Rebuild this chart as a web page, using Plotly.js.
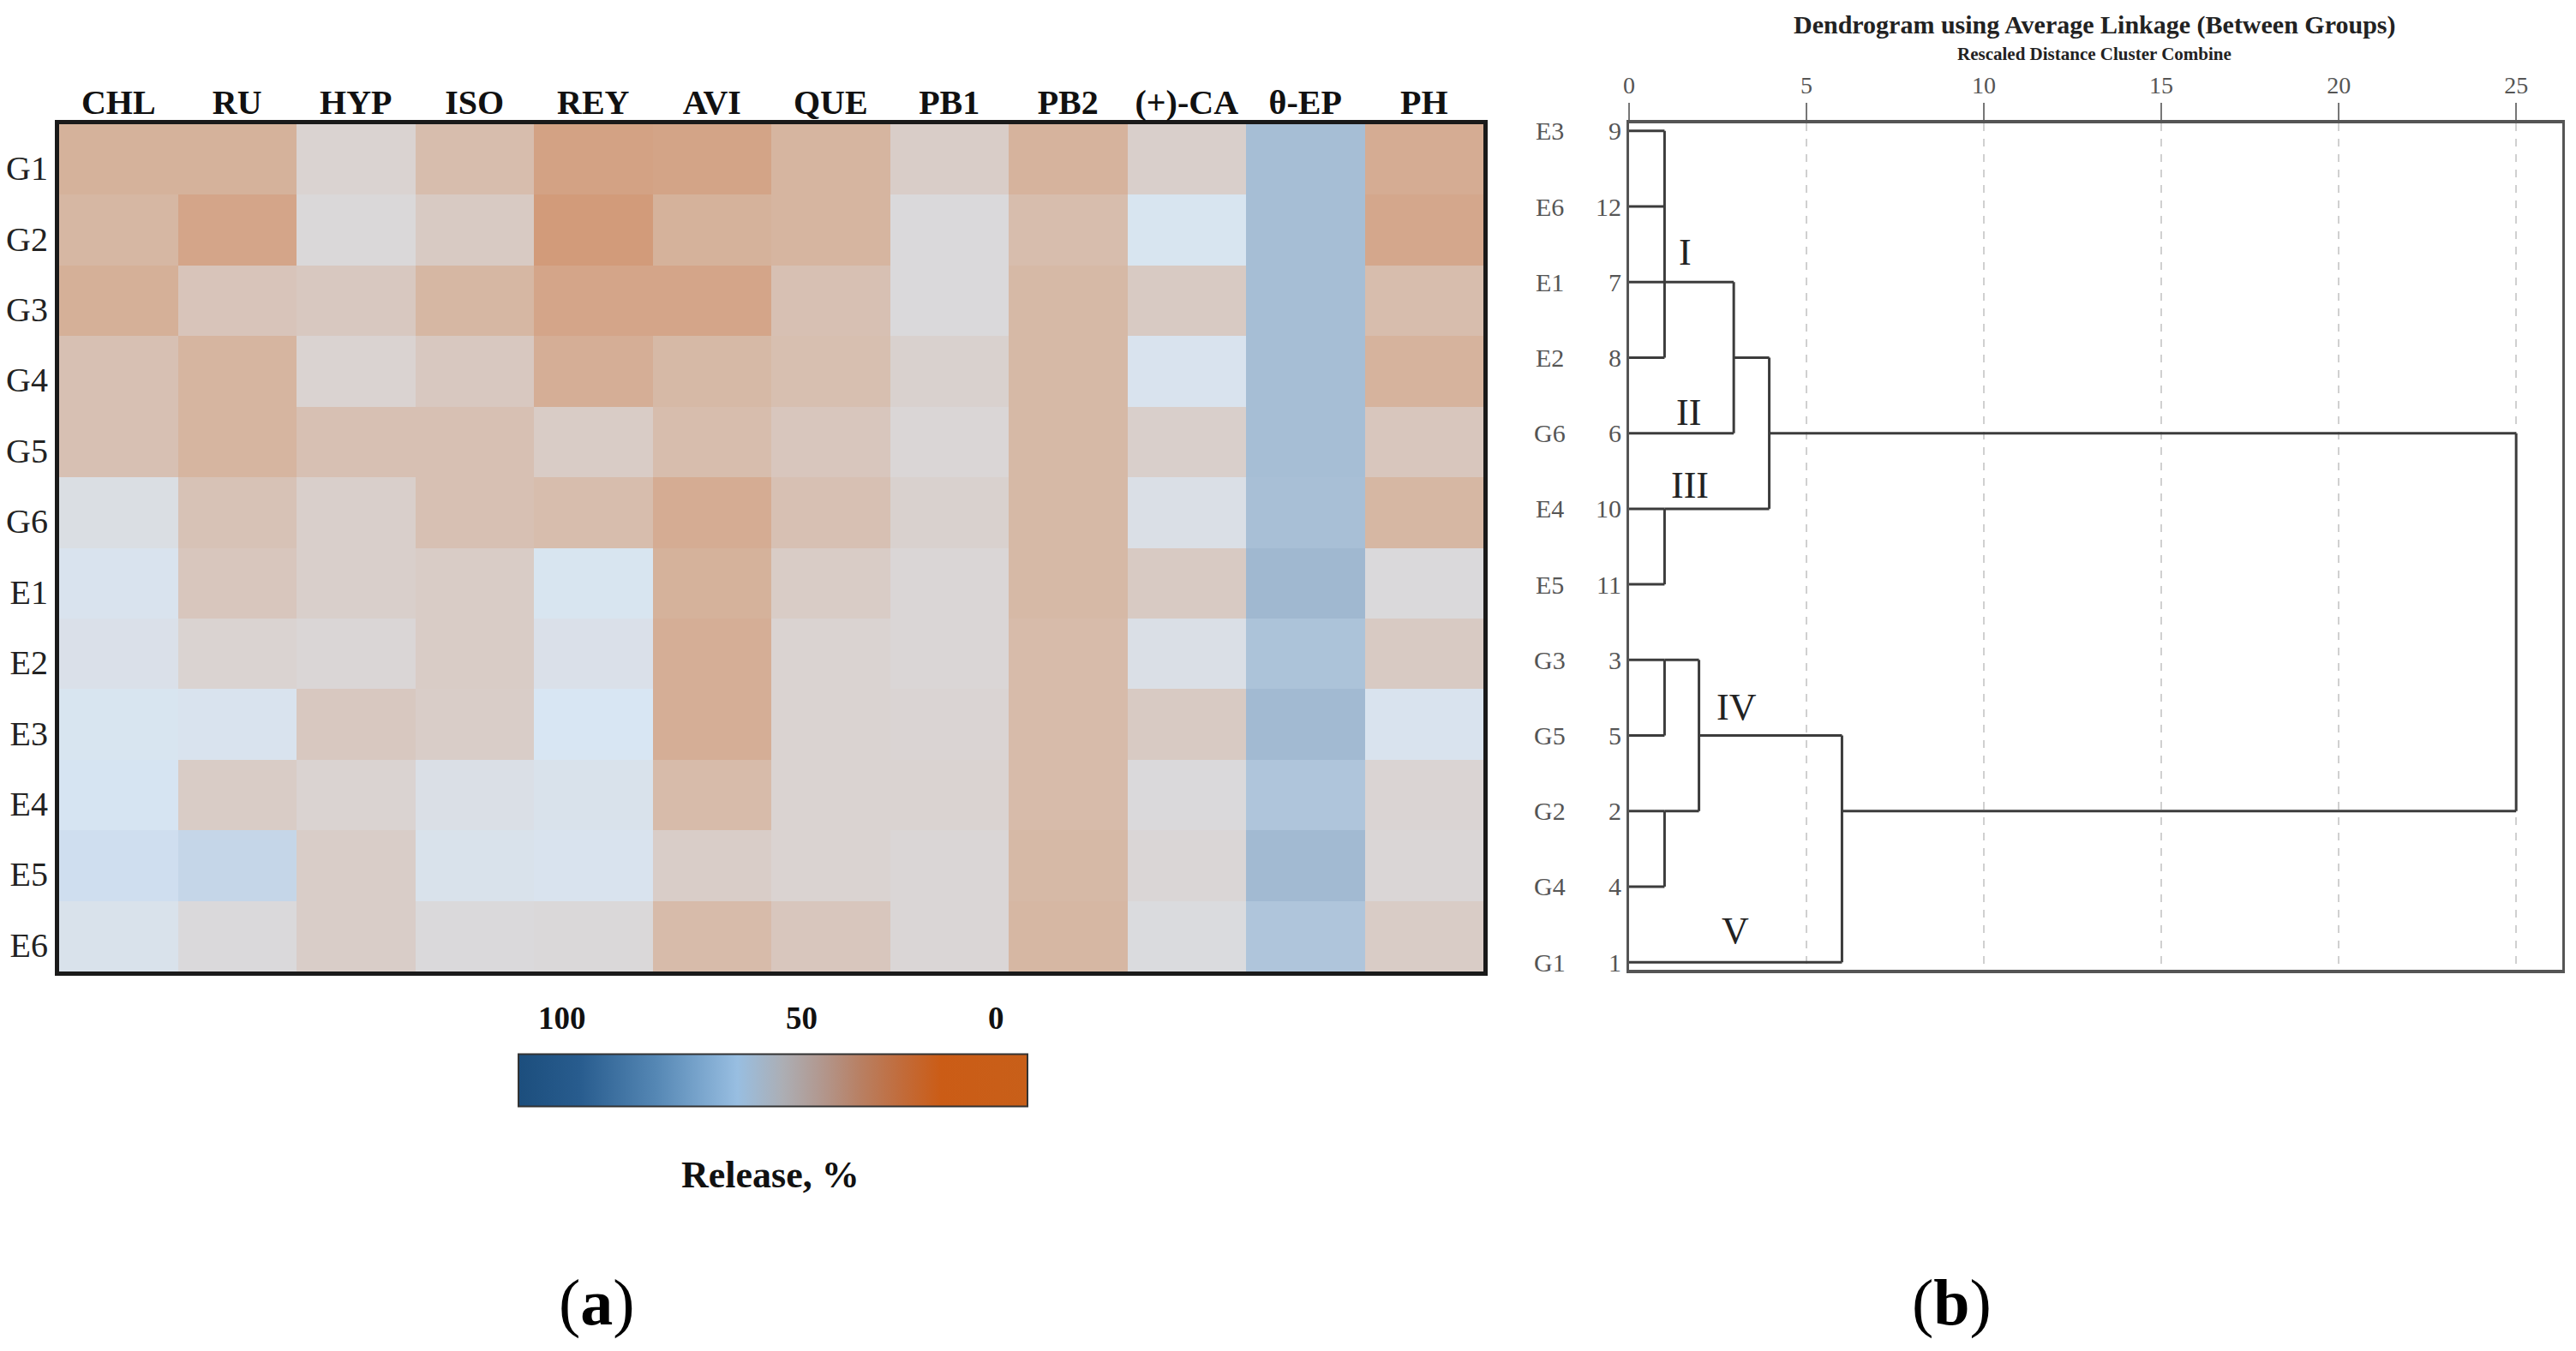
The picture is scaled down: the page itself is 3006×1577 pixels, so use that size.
<!DOCTYPE html>
<html>
<head>
<meta charset="utf-8">
<script src="https://cdn.plot.ly/plotly-3.0.1.min.js"></script>
<style>html,body{margin:0;padding:0;background:#fff;}#chart{width:3006px;height:1577px;}</style>
</head>
<body>
<div id="chart"></div>
<script>
// ---------- Heatmap data (Release, %) ----------
const columns = ['CHL','RU','HYP','ISO','REY','AVI','QUE','PB1','PB2','(+)-CA','θ-EP','PH'];
const samples = ['G1','G2','G3','G4','G5','G6','E1','E2','E3','E4','E5','E6'];
const G1 = [28,28,46,34,19,20,30,43,29,44,81,25];
const G2 = [31,21,49,41,15,28,30,50,34,58,81,22];
const G3 = [27,38,40,31,21,21,36,50,32,41,81,34];
const G4 = [36,30,46,40,26,32,35,45,32,57,81,29];
const G5 = [36,30,36,36,42,34,39,48,32,44,81,39];
const G6 = [53,37,44,36,34,25,36,45,32,54,80,31];
const E1 = [57,39,44,42,58,28,42,48,32,41,84,50];
const E2 = [55,46,48,42,55,26,46,48,33,54,78,41];
const E3 = [58,57,40,43,59,26,46,47,33,41,83,57];
const E4 = [60,42,46,54,56,33,46,46,33,50,77,47];
const E5 = [64,69,43,56,57,43,46,48,32,48,83,48];
const E6 = [56,50,43,50,49,33,39,48,31,51,77,42];
const colorbarTicks = ['100','50','0'];

// ---------- Dendrogram data ----------
const leafNames = ['E3','E6','E1','E2','G6','E4','E5','G3','G5','G2','G4','G1'];
const leafNums  = ['9','12','7','8','6','10','11','3','5','2','4','1'];
const clusterChildren = [['L0','L1','L2','L3'],['C0','L4'],['L5','L6'],['C1','C2'],['L7','L8'],['L9','L10'],['C4','C5'],['C6','L11'],['C3','C7']];
const clusterDist = [1, 2.95, 1, 3.95, 1, 1, 1.97, 6, 25];
const clusterRow  = [2, 3, 5, 4, 7, 9, 8, 9, null];
const clusterTags = ['I','II','III','IV','V'];
const distTicks = [0,5,10,15,20,25];

// ---------- build ----------
const zRows = [G1,G2,G3,G4,G5,G6,E1,E2,E3,E4,E5,E6];
const W = 3006, H = 1577;
const px = v => v / W, py = v => 1 - v / H;
const serif = 'Liberation Serif, Times New Roman, serif';

const paleScale = [
  [0.00,'rgb(200,130,90)'],[0.15,'rgb(210,155,122)'],[0.30,'rgb(214,181,160)'],
  [0.40,'rgb(216,200,192)'],[0.48,'rgb(218,214,214)'],[0.54,'rgb(218,223,230)'],
  [0.59,'rgb(216,230,243)'],[0.65,'rgb(205,220,238)'],[0.70,'rgb(195,212,230)'],
  [0.78,'rgb(172,195,217)'],[0.84,'rgb(160,184,208)'],[1.00,'rgb(110,145,185)']
];
const vividScale = [
  [0.00,'rgb(28,78,125)'],[0.12,'rgb(40,92,142)'],[0.27,'rgb(85,135,180)'],
  [0.43,'rgb(152,190,225)'],[0.52,'rgb(172,174,180)'],[0.60,'rgb(178,150,140)'],
  [0.67,'rgb(184,128,100)'],[0.75,'rgb(193,108,60)'],[0.83,'rgb(203,92,22)'],
  [1.00,'rgb(200,95,25)']
];

const heat = {
  type:'heatmap', x: columns, y: samples, z: zRows,
  zmin:0, zmax:100, colorscale: paleScale, showscale:false,
  xaxis:'x', yaxis:'y', hoverinfo:'x+y+z'
};
const heatBar = {
  type:'heatmap', x: columns, y: samples, z: zRows.map(r => r.map(v => -v)),
  zmin:-100, zmax:0, colorscale: vividScale, opacity:0, hoverinfo:'skip',
  xaxis:'x', yaxis:'y', showscale:true,
  colorbar:{
    orientation:'h', x: px(902), xanchor:'center', y: py(1261.5), yanchor:'middle',
    len:594, lenmode:'pixels', thickness:61, thicknessmode:'pixels',
    xpad:0, ypad:0, outlinewidth:2, outlinecolor:'#333',
    showticklabels:false, ticks:''
  }
};

// dendrogram segments
const distOf = r => r[0]==='L' ? 0 : clusterDist[+r.slice(1)];
const rowOf  = r => r[0]==='L' ? +r.slice(1) : clusterRow[+r.slice(1)];
const dx = [], dy = [];
clusterChildren.forEach((kids, k) => {
  const d = clusterDist[k];
  const rows = kids.map(rowOf);
  kids.forEach(c => { dx.push(distOf(c), d, null); dy.push(rowOf(c), rowOf(c), null); });
  dx.push(d, d, null); dy.push(Math.min(...rows), Math.max(...rows), null);
});
const dendro = {
  type:'scatter', mode:'lines', x: dx, y: dy, xaxis:'x2', yaxis:'y2',
  line:{color:'#3c3c3c', width:3}, hoverinfo:'skip', showlegend:false
};

const annotations = [];
// colorbar tick labels
const cbPos = [656, 935, 1162];
colorbarTicks.forEach((t,i) => annotations.push({
  xref:'paper', yref:'paper', x:px(cbPos[i]), y:py(1188), text:'<b>'+t+'</b>',
  showarrow:false, xanchor:'center', yanchor:'middle', font:{family:serif, size:37, color:'#111'}
}));
annotations.push({xref:'paper', yref:'paper', x:px(899), y:py(1371), text:'<b>Release, %</b>',
  showarrow:false, xanchor:'center', yanchor:'middle', font:{family:serif, size:44, color:'#111'}});
annotations.push({xref:'paper', yref:'paper', x:px(696), y:py(1520), text:'(<b>a</b>)',
  showarrow:false, xanchor:'center', yanchor:'middle', font:{family:serif, size:76, color:'#000'}});
annotations.push({xref:'paper', yref:'paper', x:px(2277), y:py(1520), text:'(<b>b</b>)',
  showarrow:false, xanchor:'center', yanchor:'middle', font:{family:serif, size:76, color:'#000'}});
// dendrogram titles
annotations.push({xref:'paper', yref:'paper', x:px(2444), y:py(29), text:'<b>Dendrogram using Average Linkage (Between Groups)</b>',
  showarrow:false, xanchor:'center', yanchor:'middle', font:{family:serif, size:30, color:'#222'}});
annotations.push({xref:'paper', yref:'paper', x:px(2444), y:py(63), text:'<b>Rescaled Distance Cluster Combine</b>',
  showarrow:false, xanchor:'center', yanchor:'middle', font:{family:serif, size:21, color:'#222'}});
// leaf names
leafNames.forEach((n,i) => annotations.push({
  xref:'paper', yref:'y2', x:px(1808), y:i, text:n, showarrow:false,
  xanchor:'center', yanchor:'middle', font:{family:serif, size:30, color:'#555'}
}));
// cluster tags
const tagX = [1.57, 1.67, 1.72, 3.02, 3.0];
const tagY = [1.61, 3.73, 4.69, 7.62, 10.58];
clusterTags.forEach((t,i) => annotations.push({
  xref:'x2', yref:'y2', x:tagX[i], y:tagY[i], text:t, showarrow:false,
  xanchor:'center', yanchor:'middle', font:{family:serif, size:44, color:'#222'}
}));

const layout = {
  width:W, height:H, margin:{l:0,r:0,t:0,b:0},
  paper_bgcolor:'#fff', plot_bgcolor:'#fff', showlegend:false,
  font:{family:serif, color:'#111'},
  xaxis:{domain:[px(69), px(1731)], anchor:'y', side:'top', type:'category',
    showline:true, mirror:true, linecolor:'#1a1a1a', linewidth:5, ticks:'',
    showgrid:false, zeroline:false, tickfont:{family:serif, size:40, color:'#111'},
    ticklabelstandoff:-9,
    tickprefix:'<b>', ticksuffix:'</b>', fixedrange:true},
  yaxis:{domain:[py(1134), py(145)], anchor:'x', type:'category', autorange:'reversed',
    showline:true, mirror:true, linecolor:'#1a1a1a', linewidth:5, ticks:'',
    ticklabelshift:-10,
    showgrid:false, zeroline:false, tickfont:{family:serif, size:40, color:'#222'}, fixedrange:true},
  xaxis2:{domain:[px(1901), px(2990)], anchor:'y2', side:'top', range:[0, 26.3],
    tickvals: distTicks, ticktext: distTicks.map(String), ticks:'outside', ticklen:20, tickwidth:2, tickcolor:'#777',
    showgrid:true, griddash:'dash', gridcolor:'#d0d0d0', gridwidth:2, zeroline:false,
    showline:true, mirror:true, linecolor:'#555', linewidth:4,
    tickfont:{family:serif, size:28, color:'#555'}, fixedrange:true},
  yaxis2:{domain:[py(1132), py(144)], anchor:'x2', range:[11.1, -0.1],
    tickvals: leafNames.map((_,i)=>i), ticktext: leafNums, ticks:'',
    showgrid:false, zeroline:false, showline:true, mirror:true, linecolor:'#555', linewidth:3,
    tickfont:{family:serif, size:30, color:'#555'}, fixedrange:true},
  annotations: annotations
};

Plotly.newPlot('chart', [heat, heatBar, dendro], layout, {displayModeBar:false, staticPlot:true});
</script>
</body>
</html>
